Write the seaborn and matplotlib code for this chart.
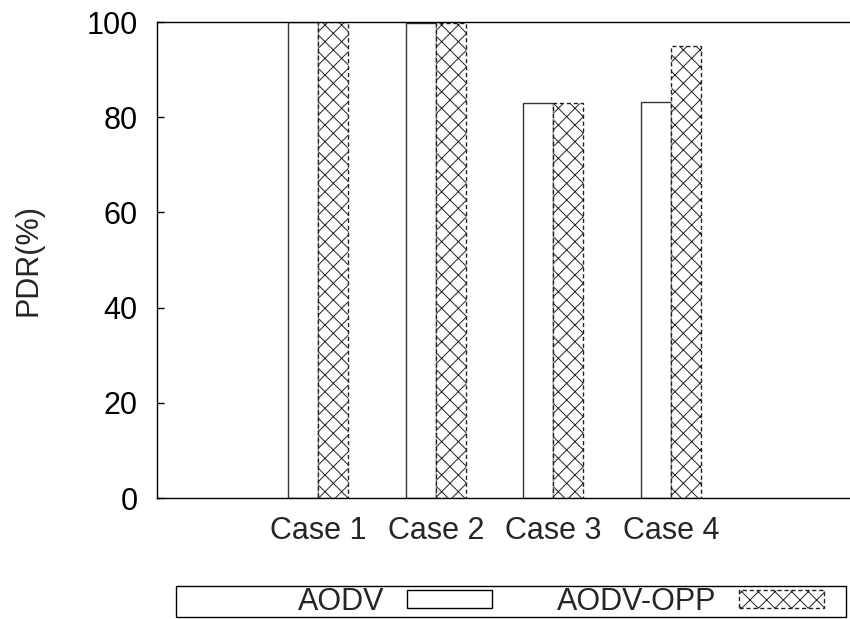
import matplotlib
matplotlib.use("Agg")
import matplotlib.pyplot as plt
from matplotlib.patches import Patch, Rectangle
import seaborn as sns
import pandas as pd

cases = ["Case 1", "Case 2", "Case 3", "Case 4"]
protocols = ["AODV", "AODV-OPP"]
aodv_pdr = [100.0, 99.7, 83.0, 83.1]
aodv_opp_pdr = [100.0, 99.7, 83.0, 95.0]
y_ticks = [0, 20, 40, 60, 80, 100]

df = pd.DataFrame({
    "case": cases * 2,
    "protocol": [protocols[0]] * len(cases) + [protocols[1]] * len(cases),
    "pdr": aodv_pdr + aodv_opp_pdr,
})

sns.set_style("white")
plt.rcParams["font.family"] = ["Liberation Sans", "DejaVu Sans"]
plt.rcParams["hatch.linewidth"] = 0.7

W, H = 850, 619
fig = plt.figure(figsize=(W / 100, H / 100), dpi=100)
ax = fig.add_axes([157 / W, 1 - 498 / H, 693 / W, 476 / H])

sns.barplot(data=df, x="case", y="pdr", hue="protocol", order=cases,
            hue_order=protocols, palette=["white", "white"], width=0.51,
            gap=0, edgecolor="black", linewidth=1.0, legend=False, ax=ax,
            errorbar=None)

# second series: cross-hatched with dashed outline
for bar in ax.containers[1]:
    bar.set_hatch("xx")
    bar.set_linestyle((0, (3, 2)))
    bar.set_edgecolor("#222222")
for bar in ax.containers[0]:
    bar.set_edgecolor("#333333")

ax.set_xlim(-1.368, 4.52)
ax.set_ylim(0, 100)
ax.set_yticks(y_ticks)
ax.set_xlabel("")
ax.set_ylabel("")
ax.tick_params(axis="y", direction="in", length=5, width=1, pad=14,
               labelsize=22, left=True, colors="black")
ax.tick_params(axis="x", length=0, pad=13, labelsize=22)
for side in ["left", "bottom", "top"]:
    ax.spines[side].set_visible(True)
    ax.spines[side].set_color("black")
    ax.spines[side].set_linewidth(1.0)
ax.spines["right"].set_visible(False)

fig.text(28 / W, 1 - 260 / H, "PDR(%)", rotation=90, ha="center",
         va="center", fontsize=22)

handles = [
    Patch(facecolor="white", edgecolor="black", linewidth=1.0),
    Patch(facecolor="white", edgecolor="#222222", linewidth=1.0,
          hatch="xx", linestyle=(0, (3, 2))),
]
fig.legend(handles, protocols, loc="center left",
           bbox_to_anchor=(298 / W, 1 - 602 / H), ncol=2, markerfirst=False,
           frameon=False, borderpad=0, borderaxespad=0, handlelength=2.8,
           handleheight=0.5, handletextpad=0.72, columnspacing=2.13,
           fontsize=22)
fig.patches.append(Rectangle((176 / W, 1 - 617 / H), (846 - 176) / W,
                             (617 - 586) / H, transform=fig.transFigure,
                             fill=False, edgecolor="black", linewidth=1.0))

fig.savefig("out.png", dpi=100)
